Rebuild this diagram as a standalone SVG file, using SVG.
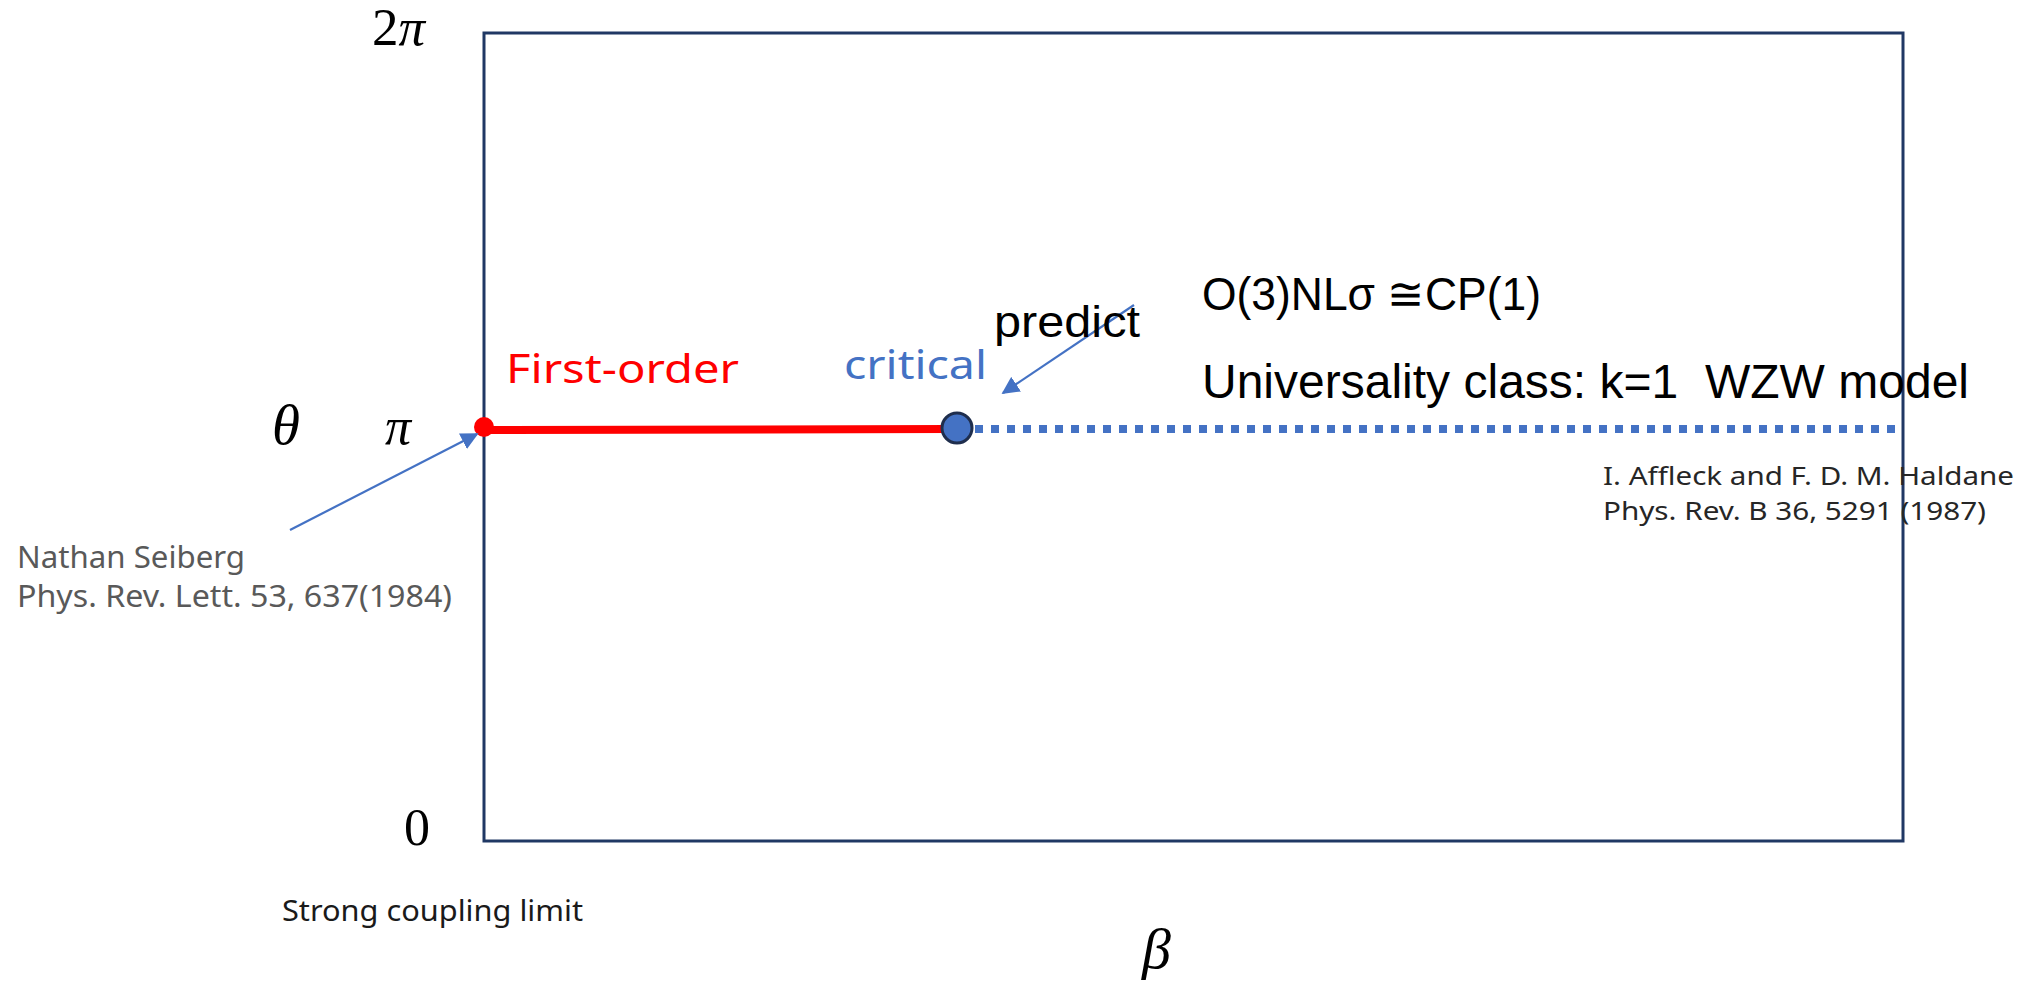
<svg xmlns="http://www.w3.org/2000/svg" width="2018" height="986" viewBox="0 0 2018 986">
<defs>
<style>
.math{font-family:"Liberation Serif","DejaVu Serif",serif;fill:#000}
.it{font-style:italic}
.ref{font-family:"Noto Sans","DejaVu Sans",sans-serif}
.ar{font-family:"Liberation Sans",Arial,sans-serif;fill:#000}
.conn{stroke:#4472C4;stroke-width:2.2;fill:none}
</style>
<marker id="ah2" viewBox="0 0 10 10" refX="9" refY="5" markerWidth="8" markerHeight="8" orient="auto">
<path d="M0,0 L10,5 L0,10 z" fill="#4472C4"/>
</marker>
</defs>
<rect width="2018" height="986" fill="#fff"/>
<g id="frame">
<rect x="484" y="33" width="1419" height="808" fill="none" stroke="#203864" stroke-width="3"/>
</g>
<g id="axis-labels">
<text class="math" x="372" y="45" font-size="53">2<tspan class="it">π</tspan></text>
<text class="math it" x="272" y="444" font-size="57">θ</text>
<text class="math it" x="385" y="444" font-size="52">π</text>
<text class="math" x="404" y="845" font-size="52">0</text>
<text class="math it" x="1142" y="968" font-size="58">β</text>
</g>
<g id="lines">
<line id="first-order-line" x1="484" y1="430" x2="950" y2="429" stroke="#FF0000" stroke-width="8"/>
<line id="critical-line" x1="975" y1="429" x2="1898" y2="429" stroke="#4472C4" stroke-width="8" stroke-dasharray="8 8"/>
</g>
<g id="node-first-order-point">
<circle cx="484" cy="427" r="10" fill="#FF0000"/>
</g>
<g id="node-critical-point">
<circle cx="957" cy="428" r="15" fill="#4472C4" stroke="#1F2E4D" stroke-width="3"/>
</g>
<g id="connectors">
<line class="conn" x1="290" y1="530" x2="477" y2="434" marker-end="url(#ah2)"/>
<line class="conn" x1="1134" y1="305" x2="1003" y2="393" marker-end="url(#ah2)"/>
</g>
<g id="labels">
<text class="ref" x="506" y="383" font-size="40" fill="#FF0000" textLength="233" lengthAdjust="spacingAndGlyphs">First-order</text>
<text class="ref" x="844" y="379" font-size="40" fill="#4472C4" textLength="143" lengthAdjust="spacingAndGlyphs">critical</text>
<text class="ar" x="994" y="337" font-size="44" textLength="146" lengthAdjust="spacingAndGlyphs">predict</text>
<text class="ar" x="1202" y="310" font-size="46" textLength="339" lengthAdjust="spacingAndGlyphs">O(3)NLσ ≅CP(1)</text>
<text class="ar" x="1202" y="398" font-size="48" textLength="767" lengthAdjust="spacingAndGlyphs" xml:space="preserve">Universality class: k=1  WZW model</text>
<text class="ref" x="1603" y="485" font-size="26" fill="#262626" textLength="411" lengthAdjust="spacingAndGlyphs">I. Affleck and F. D. M. Haldane</text>
<text class="ref" x="1603" y="520" font-size="26" fill="#262626" textLength="383" lengthAdjust="spacingAndGlyphs">Phys. Rev. B 36, 5291 (1987)</text>
<text class="ref" x="17" y="568" font-size="30" fill="#595959" textLength="228" lengthAdjust="spacingAndGlyphs">Nathan Seiberg</text>
<text class="ref" x="17" y="607" font-size="30" fill="#595959" textLength="435" lengthAdjust="spacingAndGlyphs">Phys. Rev. Lett. 53, 637(1984)</text>
<text class="ref" x="282" y="921" font-size="29" fill="#1a1a1a" textLength="301" lengthAdjust="spacingAndGlyphs">Strong coupling limit</text>
</g>
</svg>
